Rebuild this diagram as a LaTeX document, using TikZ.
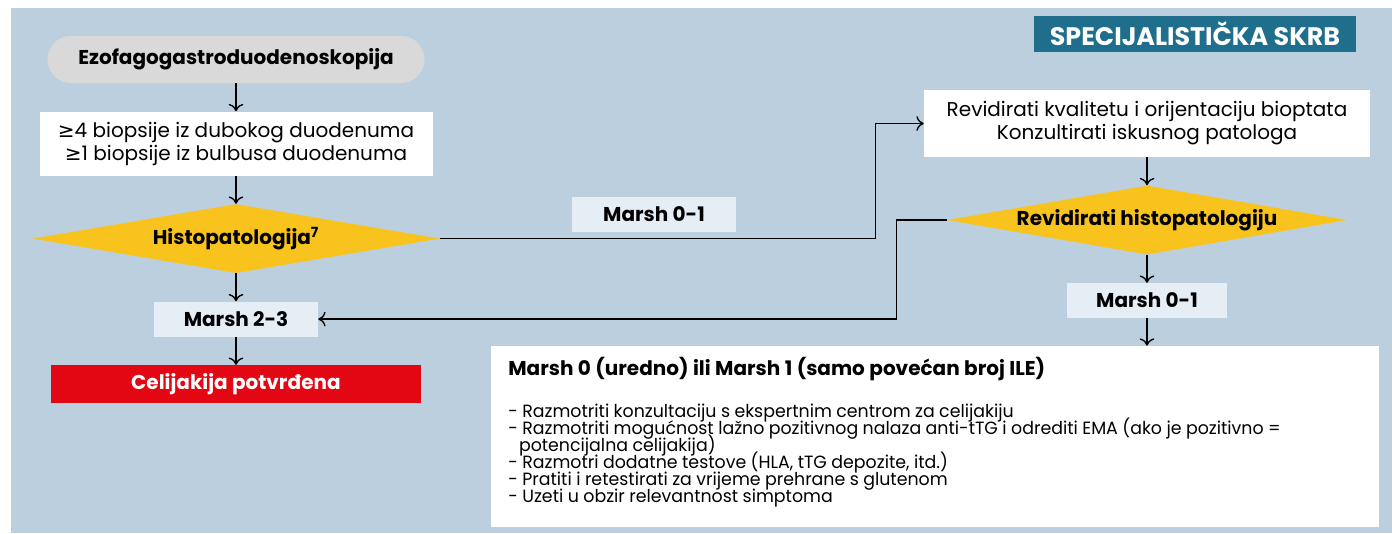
\documentclass[tikz,border=0pt]{standalone}
\usepackage{fontspec}
\usepackage{tikz}
\usetikzlibrary{positioning,shapes.geometric,arrows.meta}
\setmainfont{Poppins}
\newfontfamily\symb{DejaVu Sans}
\newfontfamily\narrow{Poppins}[FakeStretch=0.98]
\definecolor{bgblue}{RGB}{188,207,223}
\definecolor{paleblue}{RGB}{230,238,245}
\definecolor{amber}{RGB}{249,195,30}
\definecolor{alarm}{RGB}{227,6,19}
\definecolor{pill}{RGB}{217,217,217}
\definecolor{teal}{RGB}{31,110,140}

\begin{document}
\begin{tikzpicture}[x=0.75pt, y=0.75pt, node distance=21pt]
% Define styles
\tikzstyle{step box} = [rectangle, fill=white, text centered, align=center, inner sep=0pt, font=\fontsize{15}{17.25}\selectfont]
\tikzstyle{start} = [rectangle, rounded corners=17.5pt, fill=pill, minimum width=282.75pt, minimum height=35.25pt, font=\fontsize{15}{17}\selectfont\bfseries]
\tikzstyle{decision} = [diamond, fill=amber, inner sep=0pt, aspect=5.8, font=\fontsize{15}{17}\selectfont\bfseries]
\tikzstyle{marsh} = [rectangle, fill=paleblue, minimum width=123pt, minimum height=26.25pt, font=\fontsize{15}{17}\selectfont\bfseries]
\tikzstyle{arrow} = [line width=1pt, -{To[length=5.5pt,width=11pt]}]

% Background
\useasboundingbox (0,0) rectangle (1392,-533);
\fill[bgblue] (11,-8) rectangle (1392,-533);

% Draw nodes
\node (title) [rectangle, fill=teal, text=white, minimum width=241.5pt, minimum height=27pt, font=\fontsize{19}{21}\selectfont\bfseries] at (1195,-34) {SPECIJALISTIČKA SKRB};

\node (egd) [start] at (236,-59.5) {Ezofagogastroduodenoskopija};
\node (bio) [step box, minimum width=294.75pt, minimum height=48pt, below=of egd] {{\symb ≥}4 biopsije iz dubokog duodenuma\\{\symb ≥}1 biopsije iz bulbusa duodenuma};
\node (hist) [decision, minimum width=305.25pt, minimum height=51.75pt, below=of bio] {Histopatologija\textsuperscript{7}};
\node (m23) [marsh, below=of hist] {Marsh 2-3};
\node (cd) [rectangle, fill=alarm, text=white, minimum width=277.5pt, minimum height=28.5pt, font=\fontsize{15}{17}\selectfont\bfseries, below=of m23] {Celijakija potvrđena};

\node (m01a) [marsh] at (654,-214.5) {Marsh 0-1};

\node (rev) [step box, minimum width=334.5pt, minimum height=50.25pt] at (1147,-123.5) {Revidirati kvalitetu i orijentaciju bioptata\\Konzultirati iskusnog patologa};
\node (rhist) [decision, minimum width=300pt, minimum height=51.75pt, below=of rev] {Revidirati histopatologiju};
\node (m01b) [marsh, minimum width=120pt, below=of rhist] {Marsh 0-1};

\node (out) [rectangle, fill=white, minimum width=666pt, minimum height=135.75pt, inner xsep=12.75pt, inner ysep=0pt, text width=640pt, align=left] at (935,-436.5) {%
{\fontsize{15}{17}\selectfont\bfseries Marsh 0 (uredno) ili Marsh 1 (samo povećan broj ILE)\par}
\vspace{18.75pt}
\narrow\fontsize{13.3}{12.75}\selectfont\lineskiplimit=-\maxdimen
- Razmotriti konzultaciju s ekspertnim centrom za celijakiju\\
- Razmotriti mogućnost lažno pozitivnog nalaza anti-tTG i odrediti EMA (ako je pozitivno =\\
\hspace*{8pt}potencijalna celijakija)\\
- Razmotri dodatne testove (HLA, tTG depozite, itd.)\\
- Pratiti i retestirati za vrijeme prehrane s glutenom\\
- Uzeti u obzir relevantnost simptoma\par\kern7pt};

% Draw arrows
\draw [arrow] (egd) -- (bio);
\draw [arrow] (bio) -- (hist);
\draw [arrow] (hist) -- (m23);
\draw [arrow] (m23) -- (cd);
\draw [arrow] (hist.east) -| ([xshift=-36pt]rev.west) -- (rev.west);
\draw [arrow] (rev) -- (rhist);
\draw [arrow] (rhist) -- (m01b);
\draw [arrow] (rhist.west) -- ++(-37.5pt,0) |- (m23.east);
\draw [arrow] (m01b) -- (m01b |- out.north);

\end{tikzpicture}
\end{document}
